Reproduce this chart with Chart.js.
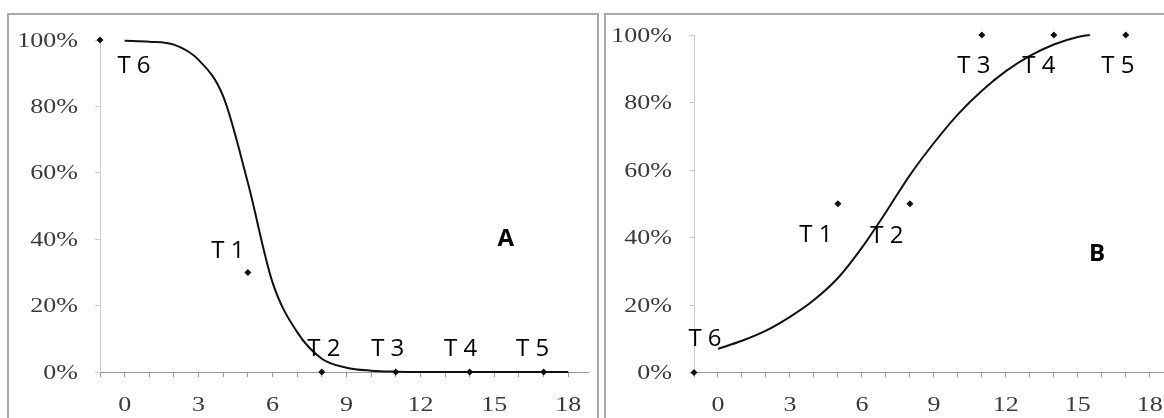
<!DOCTYPE html>
<html>
<head>
<meta charset="utf-8">
<script src="https://cdn.jsdelivr.net/npm/chart.js@4"></script>
<style>
html, body { margin: 0; padding: 0; background: #fff; overflow: hidden; width: 1164px; height: 418px; }
.panel { position: absolute; border: 2px solid #aaa; box-sizing: border-box; height: 440px; }
canvas { position: absolute; }
</style>
</head>
<body>
<div class="panel" style="left:7px; top:13px; width:592px;"></div>
<div class="panel" style="left:604px; top:13px; width:600px;"></div>
<canvas id="chartA" width="588" height="403" style="left:9px; top:15px;"></canvas>
<canvas id="chartB" width="588" height="403" style="left:606px; top:15px;"></canvas>
<script>
// measured points (same x for both panels)
const pointX = [5, 8, 11, 14, 17, -1];
const pointLabels = ['T 1', 'T 2', 'T 3', 'T 4', 'T 5', 'T 6'];
const pointsA = [30, 0, 0, 0, 0, 100];
const pointsB = [50, 50, 100, 100, 100, 0];

// fitted curves
const curveAx = [0, 1, 2, 3, 4, 5, 6, 7, 8, 9, 10, 11, 12, 13, 14, 15, 16, 17, 18];
const curveAy = [99.8, 99.5, 98.6, 94, 83, 57, 27, 12, 4, 1.3, 0.4, 0.1, 0, 0, 0, 0, 0, 0, 0];
const curveBx = [0, 1, 2, 3, 4, 5, 6, 7, 8, 9, 10, 11, 12, 13, 14, 15, 15.5];
const curveBy = [7, 9.4, 12.4, 16.5, 21.5, 28, 37, 47.5, 58.5, 68, 76.5, 83.5, 89.3, 93.8, 97.2, 99.4, 100];

const xTicks = [0, 3, 6, 9, 12, 15, 18];
const yTicks = [0, 20, 40, 60, 80, 100];

// label offsets in px from the point (T1..T6)
const offsetsA = [[-20, -23], [2, -25], [-8, -25], [-9, -25], [-11, -25], [34, 24]];
const offsetsB = [[-22, 30], [-23, 31], [-8, 29], [-15, 29], [-8, 29], [11, -35]];

const serif = "20px 'Liberation Serif', 'Times New Roman', serif";
const stretch = 1.3; // tick text in the source is drawn wide

const pointLabelPlugin = {
    id: 'pointLabels',
    afterDatasetsDraw(chart, args, opts) {
        const ctx = chart.ctx;
        const xs = chart.scales.x, ys = chart.scales.y;
        const vals = chart.data.datasets[1].data;
        ctx.save();
        ctx.fillStyle = '#000';
        ctx.textAlign = 'center';
        ctx.textBaseline = 'alphabetic';
        ctx.font = "24px 'Open Sans'";
        vals.forEach((p, i) => {
            const px = xs.getPixelForValue(p.x) + opts.offsets[i][0];
            const py = ys.getPixelForValue(p.y) + opts.offsets[i][1];
            ctx.fillText(pointLabels[i], px, py + 8.5);
        });
        ctx.font = "bold 24px 'Open Sans'";
        ctx.fillText(opts.letter, xs.getPixelForValue(opts.letterAt[0]), ys.getPixelForValue(opts.letterAt[1]) + 8.5);

        // tick labels
        ctx.font = serif;
        ctx.fillStyle = '#3a3a3a';
        xTicks.forEach(v => {
            ctx.save();
            ctx.translate(xs.getPixelForValue(v), xs.top + 32 + 6.6);
            ctx.scale(stretch, 1);
            ctx.textAlign = 'center';
            ctx.fillText(String(v), 0, 0);
            ctx.restore();
        });
        yTicks.forEach(v => {
            ctx.save();
            ctx.translate(ys.right - 22, ys.getPixelForValue(v) + 6.6);
            ctx.scale(stretch, 1);
            ctx.textAlign = 'right';
            ctx.fillText(v + '%', 0, 0);
            ctx.restore();
        });
        ctx.restore();
    }
};

function makeChart(id, cx, cy, py, offsets, letter, letterAt, yWidth, pad) {
    new Chart(document.getElementById(id), {
        type: 'scatter',
        data: {
            datasets: [{
                data: cx.map((x, i) => ({ x: x, y: cy[i] })),
                showLine: true,
                borderColor: '#111',
                borderWidth: 2,
                pointRadius: 0,
                cubicInterpolationMode: 'monotone',
                clip: false
            }, {
                data: pointX.map((x, i) => ({ x: x, y: py[i] })),
                showLine: false,
                pointStyle: 'rectRot',
                pointRadius: 3.5,
                backgroundColor: '#111',
                borderWidth: 0,
                clip: false
            }]
        },
        options: {
            responsive: false,
            devicePixelRatio: 1,
            animation: false,
            layout: { padding: { top: pad.top, right: pad.right, left: 0, bottom: 0 } },
            plugins: {
                legend: { display: false },
                tooltip: { enabled: false },
                pointLabels: { offsets: offsets, letter: letter, letterAt: letterAt }
            },
            scales: {
                x: {
                    type: 'linear',
                    min: -1,
                    max: 18.8,
                    afterFit: s => { s.height = pad.xh; },
                    ticks: {
                        stepSize: 1,
                        includeBounds: false,
                        autoSkip: false,
                        maxRotation: 0,
                        callback: () => ''
                    },
                    grid: { drawOnChartArea: false, drawTicks: true, tickLength: 5, color: '#999' },
                    border: { display: true, color: '#999', width: 1 }
                },
                y: {
                    min: 0,
                    max: 100,
                    afterFit: s => { s.width = yWidth; },
                    ticks: { stepSize: 20, callback: () => '' },
                    grid: { drawOnChartArea: false, drawTicks: true, tickLength: 5, color: '#ccc' },
                    border: { display: true, color: '#ccc', width: 1 }
                }
            }
        },
        plugins: [pointLabelPlugin]
    });
}

makeChart('chartA', curveAx, curveAy, pointsA, offsetsA, 'A', [15.46, 40.4], 91, { top: 25, right: 9, xh: 46 });
makeChart('chartB', curveBx, curveBy, pointsB, offsetsB, 'B', [15.8, 35.7], 88, { top: 20, right: 25, xh: 45.5 });
</script>
</body>
</html>
